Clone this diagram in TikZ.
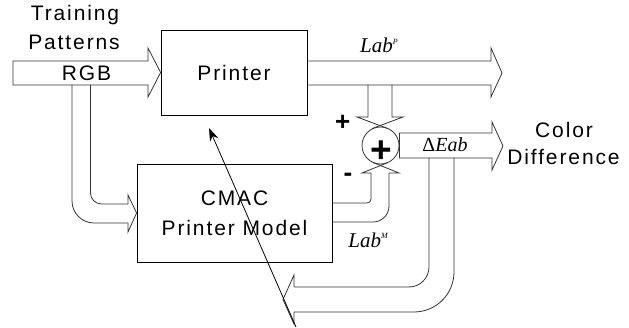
\documentclass[tikz,border=0pt]{standalone}
\usepackage{fontspec}
\setmainfont{Liberation Sans}
\newfontfamily\lblfont{Liberation Sans}[LetterSpace=9]
\newfontfamily\labfont{Liberation Serif}
\usetikzlibrary{arrows.meta}
\begin{document}
\begin{tikzpicture}[x=1pt,y=-1pt,
  blk/.style={draw=black!80, line width=0.8pt, line join=miter},
  box/.style={draw=black, line width=0.8pt, inner sep=0pt, align=center,
    font=\lblfont\fontsize{21}{30}\selectfont},
  txt/.style={inner sep=0pt, font=\lblfont\fontsize{21}{28}\selectfont},
  sign/.style={inner sep=0pt, font=\bfseries\fontsize{26}{26}\selectfont},
  labtxt/.style={inner sep=0pt, font=\labfont\fontsize{21}{21}\selectfont}
]
\useasboundingbox (0,0) rectangle (629,328);

% blocks
\node[box, minimum width=146pt, minimum height=85pt] (printer) at (234,72.5) {Printer};
\node[box, minimum width=195pt, minimum height=98pt] (cmac) at (234.5,213) {CMAC\\Printer Model};
\node[draw=black!80, line width=0.8pt, circle, minimum size=37pt, inner sep=0pt] (sum) at (380.5,145.5) {};
\node[inner sep=0pt, anchor=base, font=\bfseries\fontsize{37}{37}\selectfont] (sumplus) at (381,162.7) {+};

% named points
\coordinate (inA) at (13,61);
\coordinate (fbTail) at (296,327);
\coordinate (fbTip) at (209,128);

% input arrow RGB
\draw[blk] (inA) -- (148,61) -- (148,48) -- (printer.west) -- (148,97) -- (148,85) -- (13,85) -- cycle;

% branch to CMAC
\draw[blk, rounded corners=22pt] (72,85) -- (72,223) -- (128,223);
\draw[blk] (128,223) -- (128,232) -- (cmac.west) -- (128,195) -- (128,204);
\draw[blk, rounded corners=11pt] (128,204) -- (90.5,204) -- (90.5,85);

% output Lab^P arrow
\draw[blk] (printer.east |- 0,61) -- (491,61) -- (491,48) -- (502,73) -- (491,97) -- (491,85) -- (printer.east |- 0,85);

% down arrow into sum
\draw[blk] (368,85) -- (368,117) -- (357,117) -- (388,128.6);
\draw[blk] (392,85) -- (392,117) -- (403,117) -- (372,128.6);

% up arrow from CMAC into sum
\draw[blk, rounded corners=4pt] (cmac.east |- 0,203) -- (371,203) -- (371,173);
\draw[blk] (371,173) -- (362,173) -- (388,162.5);
\draw[blk, rounded corners=16pt] (cmac.east |- 0,222) -- (389,222) -- (389,173);
\draw[blk] (389,173) -- (399,173) -- (373,162.5);

% Delta Eab arrow
\draw[blk] (sum.east |- 0,133) -- (492,133) -- (492,122) -- (503,146) -- (492,170) -- (492,158) -- (sum.east |- 0,158) -- cycle;

% feedback arrow
\draw[blk, rounded corners=20pt] (429,158) -- (429,287) -- (294,287);
\draw[blk, rounded corners=40pt] (454,158) -- (454,312) -- (294,312);
\draw[blk] (294,287) -- (294,275) -- (283,299.5) -- (294,324) -- (294,312);

% adaptation arrow
\draw[line width=0.8pt, -{Stealth[length=13pt,width=9pt]}] (fbTail) -- (fbTip);

% labels
\node[txt, anchor=base] (ltrain) at (75,21) {Training};
\node[txt, anchor=base] (lpatt) at (74,50) {Patterns};
\node[txt, anchor=base] (lrgb) at (86.5,81) {RGB};
\node[txt, anchor=base] (lcolor) at (564,138) {Color};
\node[txt, anchor=base] (ldiff) at (563.5,165) {Difference};
\node[sign, anchor=base] (lplus) at (342.6,130.6) {+};
\node[sign, anchor=base] (lminus) at (348,181.8) {-};
\node[labtxt, anchor=base] (labp) at (379,53) {\itshape Lab\raisebox{8pt}{\fontsize{8}{8}\selectfont P}};
\node[labtxt, anchor=base] (labm) at (368,248) {\itshape Lab\raisebox{9pt}{\fontsize{8}{8}\selectfont M}};
\node[labtxt, anchor=base, font=\labfont\fontsize{20}{20}\selectfont] (ldeab) at (445,152) {Δ\textit{Eab}};
\end{tikzpicture}
\end{document}
